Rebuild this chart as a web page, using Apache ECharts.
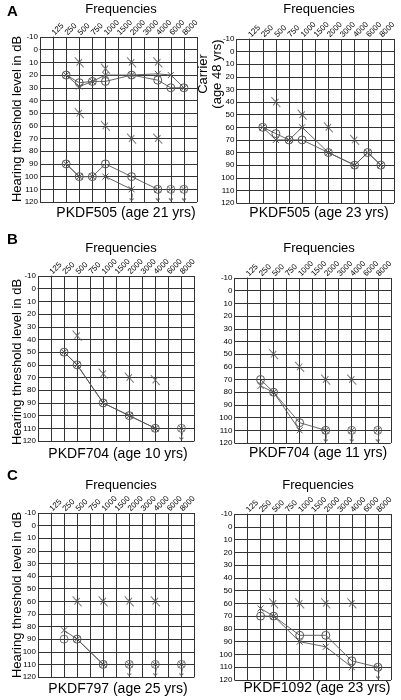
<!DOCTYPE html>
<html><head><meta charset="utf-8">
<script src="https://cdn.jsdelivr.net/npm/echarts@6/dist/echarts.min.js"></script>
<style>html,body{margin:0;padding:0;background:#fff}#c{width:401px;height:700px}</style>
</head><body><div id="c"></div><script>
// ---------- data ----------
const FREQ_LABELS = ['125','250','500','750','1000','1500','2000','3000','4000','6000','8000'];
const DB_TICKS_MIN = -10, DB_TICKS_MAX = 120, DB_STEP = 10;
const NO_RESPONSE_ARROW_DB = 116;

// Panel A left: PKDF505 (age 21 yrs) + carrier
const A1_O_upper = [[250,20],[500,26],[750,25],[1000,25],[2000,20],[4000,24],[6000,30],[8000,30]];
const A1_X_upper = [[250,20],[500,29],[750,25],[1000,20],[2000,20],[4000,19],[6000,20],[8000,30]];
const A1_O_lower = [[250,90],[500,100],[750,100],[1000,90],[2000,100],[4000,110]];
const A1_X_lower = [[250,90],[500,100],[750,100],[1000,100],[2000,110]];
const A1_O_free  = [[6000,110],[8000,110]];
const A1_X_free  = [[4000,110],[6000,110],[8000,110]];
const A1_bone    = [[500,10],[1000,15],[2000,10],[4000,10],[500,50],[1000,60],[2000,70],[4000,70]];
const A1_arrows  = [2000,4000,6000,8000];

// Panel A right: PKDF505 (age 23 yrs)
const A2_O = [[250,60],[500,65],[750,70],[1000,70],[2000,80],[4000,90],[6000,80],[8000,90]];
const A2_X = [[250,60],[500,70],[750,70],[1000,60],[2000,80],[4000,90],[6000,80],[8000,90]];
const A2_bone = [[500,40],[1000,50],[2000,60],[4000,70]];

// Panel B left: PKDF704 (age 10 yrs)
const B1_O = [[250,50],[500,60],[1000,90],[2000,100],[4000,110]];
const B1_X = [[250,50],[500,60],[1000,90],[2000,100],[4000,110]];
const B1_O_free = [[8000,110]];
const B1_X_free = [[8000,110]];
const B1_bone = [[500,37],[1000,67],[2000,70],[4000,72]];
const B1_arrows = [8000];

// Panel B right: PKDF704 (age 11 yrs)
const B2_O = [[250,70],[500,80],[1000,104],[2000,110]];
const B2_X = [[250,75],[500,80],[1000,110]];
const B2_O_free = [[4000,110],[8000,110]];
const B2_X_free = [[2000,110],[4000,110],[8000,110]];
const B2_bone = [[500,50],[1000,60],[2000,70],[4000,70]];
const B2_arrows = [2000,4000,8000];

// Panel C left: PKDF797 (age 25 yrs)
const C1_O = [[500,90],[1000,110]];
const C1_X = [[250,83],[500,90],[1000,110]];
const C1_O_free = [[250,90],[2000,110],[4000,110],[8000,110]];
const C1_X_free = [[2000,110],[4000,110],[8000,110]];
const C1_bone = [[500,60],[1000,60],[2000,60],[4000,60]];
const C1_arrows = [2000,4000,8000];

// Panel C right: PKDF1092 (age 23 yrs)
const C2_O = [[250,70],[500,70],[1000,85],[2000,85],[4000,105],[8000,110]];
const C2_X = [[250,64],[500,70],[1000,90],[2000,94],[4000,110]];
const C2_X_free = [[8000,110]];
const C2_bone = [[500,60],[1000,60],[2000,60],[4000,60]];
const C2_arrows = [8000];

// ---------- layout / styles ----------
const INK = '#555', GRID = '#333';
const FONT = '"Liberation Sans", Arial, sans-serif';
const panels = [
  {rect:{left:40,top:37,width:157,height:165}, oLines:[A1_O_upper,A1_O_lower], xLines:[A1_X_upper,A1_X_lower], oFree:A1_O_free, xFree:A1_X_free, bone:A1_bone, arrows:A1_arrows},
  {rect:{left:236.5,top:39,width:157.5,height:164}, oLines:[A2_O], xLines:[A2_X], oFree:[], xFree:[], bone:A2_bone, arrows:[]},
  {rect:{left:38,top:276,width:156.4,height:165}, oLines:[B1_O], xLines:[B1_X], oFree:B1_O_free, xFree:B1_X_free, bone:B1_bone, arrows:B1_arrows},
  {rect:{left:234.5,top:278,width:156.3,height:165}, oLines:[B2_O], xLines:[B2_X], oFree:B2_O_free, xFree:B2_X_free, bone:B2_bone, arrows:B2_arrows},
  {rect:{left:38,top:513,width:156.4,height:164}, oLines:[C1_O], xLines:[C1_X], oFree:C1_O_free, xFree:C1_X_free, bone:C1_bone, arrows:C1_arrows},
  {rect:{left:234.5,top:514,width:156.5,height:166}, oLines:[C2_O], xLines:[C2_X], oFree:[], xFree:C2_X_free, bone:C2_bone, arrows:C2_arrows}
];

const texts = [
  {t:'A', x:7, y:12, bold:true, size:15, align:'left'},
  {t:'B', x:7, y:240, bold:true, size:15, align:'left'},
  {t:'C', x:7, y:476, bold:true, size:15, align:'left'},
  {t:'Frequencies', x:121, y:9, size:13},
  {t:'Frequencies', x:319, y:9, size:13},
  {t:'Frequencies', x:121, y:248, size:13},
  {t:'Frequencies', x:319, y:248, size:13},
  {t:'Frequencies', x:121, y:485, size:13},
  {t:'Frequencies', x:318, y:485, size:13},
  {t:'PKDF505 (age 21 yrs)', x:126, y:213, size:14},
  {t:'PKDF505 (age 23 yrs)', x:319, y:213, size:14},
  {t:'PKDF704 (age 10 yrs)', x:118, y:454, size:14},
  {t:'PKDF704 (age 11 yrs)', x:318, y:453, size:14},
  {t:'PKDF797 (age 25 yrs)', x:118, y:689, size:14},
  {t:'PKDF1092 (age 23 yrs)', x:317, y:688, size:14},
  {t:'Hearing threshold level in dB', x:17, y:119, size:13, rot:true},
  {t:'Hearing threshold level in dB', x:17, y:362, size:13, rot:true},
  {t:'Hearing threshold level in dB', x:17, y:595, size:13, rot:true},
  {t:'Carrier\n(age 48 yrs)', x:210, y:74, size:13, rot:true, lh:14}
];

const SYM_X = 'path://M0 0L10 10M10 0L0 10';
const SYM_BONE = 'path://M0 0L10 12M8 2L2 10M2 3L5 5';
const SYM_ARROW = 'path://M5 0L3.5 10M1 7L3.5 10L6 7.5';

function idx(f){ return FREQ_LABELS.indexOf(String(f)); }
function pts(arr){ return arr.map(p => [idx(p[0]), p[1]]); }

const grid = [], xAxis = [], yAxis = [], series = [];
panels.forEach((p, i) => {
  grid.push(Object.assign({containLabel:false}, p.rect));
  xAxis.push({
    type:'value', gridIndex:i, position:'top', min:-1, max:FREQ_LABELS.length, interval:1,
    axisLine:{show:true, lineStyle:{color:GRID, width:1}},
    axisTick:{show:false},
    splitLine:{show:true, lineStyle:{color:GRID, width:1}},
    axisLabel:{rotate:45, fontSize:8, fontFamily:FONT, color:'#000', margin:3,
      formatter: v => (v >= 0 && v < FREQ_LABELS.length) ? FREQ_LABELS[v] : ''}
  });
  yAxis.push({
    type:'value', gridIndex:i, inverse:true, min:DB_TICKS_MIN, max:DB_TICKS_MAX, interval:DB_STEP,
    axisLine:{show:true, lineStyle:{color:GRID, width:1}},
    axisTick:{show:false},
    splitLine:{show:true, lineStyle:{color:GRID, width:1}},
    axisLabel:{fontSize:8, fontFamily:FONT, color:'#000', margin:2}
  });
  const base = {xAxisIndex:i, yAxisIndex:i, animation:false};
  p.oLines.forEach(arr => series.push(Object.assign({}, base, {
    type:'line', data:pts(arr), symbol:'circle', symbolSize:8, showSymbol:true, z:3,
    lineStyle:{color:INK, width:0.9},
    itemStyle:{color:'rgba(0,0,0,0)', borderColor:INK, borderWidth:1}
  })));
  p.xLines.forEach(arr => series.push(Object.assign({}, base, {
    type:'line', data:pts(arr), symbol:SYM_X, symbolSize:6, showSymbol:true, z:4,
    lineStyle:{color:INK, width:0.9},
    itemStyle:{color:'rgba(0,0,0,0)', borderColor:INK, borderWidth:1}
  })));
  if (p.oFree.length) series.push(Object.assign({}, base, {
    type:'scatter', data:pts(p.oFree), symbol:'circle', symbolSize:8, z:3,
    itemStyle:{color:'rgba(0,0,0,0)', borderColor:INK, borderWidth:1}
  }));
  if (p.xFree.length) series.push(Object.assign({}, base, {
    type:'scatter', data:pts(p.xFree), symbol:SYM_X, symbolSize:6, z:4,
    itemStyle:{color:'rgba(0,0,0,0)', borderColor:INK, borderWidth:1}
  }));
  series.push(Object.assign({}, base, {
    type:'scatter', data:pts(p.bone), symbol:SYM_BONE, symbolSize:[9,10], z:4,
    itemStyle:{color:'rgba(0,0,0,0)', borderColor:INK, borderWidth:1}
  }));
  if (p.arrows.length) series.push(Object.assign({}, base, {
    type:'scatter', data:p.arrows.map(f => [idx(f), NO_RESPONSE_ARROW_DB]), symbol:SYM_ARROW, symbolSize:[4,7], z:4,
    itemStyle:{color:'rgba(0,0,0,0)', borderColor:INK, borderWidth:1}
  }));
});

const graphic = texts.map(o => ({
  type:'text', x:o.x, y:o.y, rotation: o.rot ? Math.PI/2 : 0, z:10,
  style:{text:o.t, fill:'#000', textAlign:o.align || 'center', textVerticalAlign:'middle',
    font:(o.bold ? 'bold ' : '') + o.size + 'px ' + FONT, lineHeight:o.lh || undefined}
}));

const chart = echarts.init(document.getElementById('c'), null, {renderer:'canvas'});
chart.setOption({animation:false, grid, xAxis, yAxis, series, graphic});
</script></body></html>
